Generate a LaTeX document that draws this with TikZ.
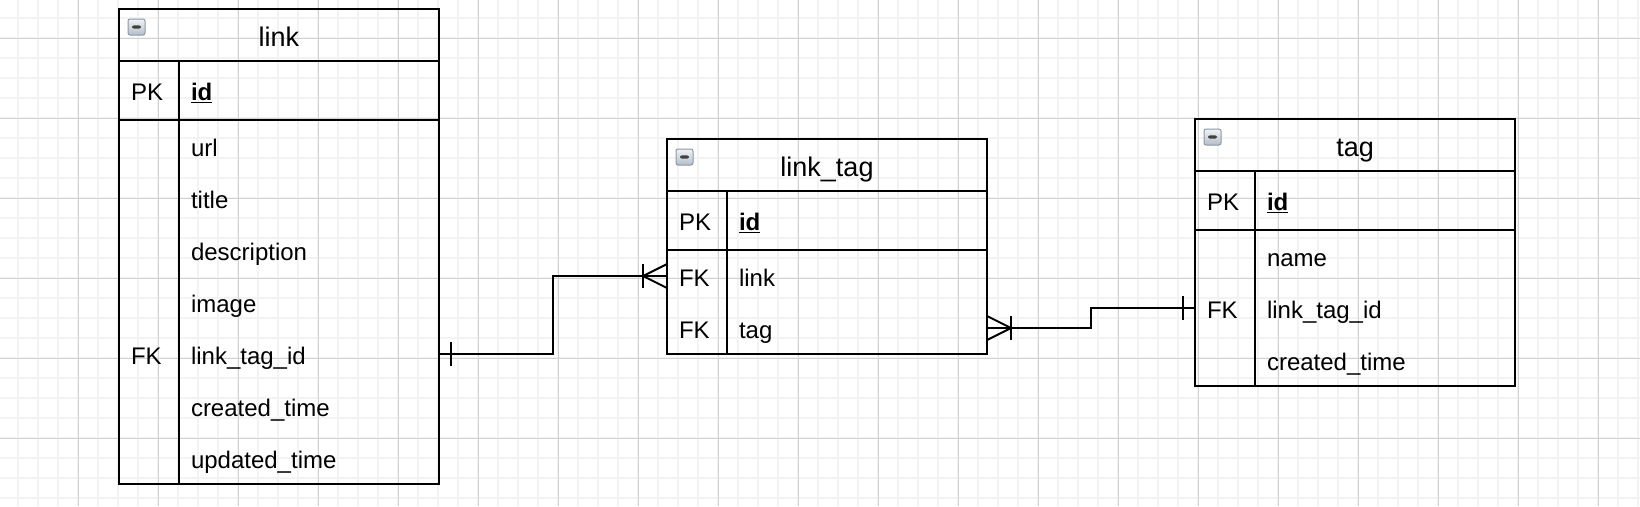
\documentclass[tikz,border=0pt]{standalone}
\usepackage{fontspec}
\setmainfont{Liberation Sans}
\usepackage{xcolor}
\usepackage{tikz}
\usetikzlibrary{positioning}

\definecolor{gridlight}{HTML}{F3F3F3}
\definecolor{griddark}{HTML}{D2D2D2}
\definecolor{icontop}{HTML}{F0F3F6}
\definecolor{iconbot}{HTML}{B4BEC8}
\definecolor{iconedge}{HTML}{8C98A6}

\tikzset{
  cell/.style={draw, line width=2pt},
  hdr/.style={draw, line width=2pt, outer sep=0pt, inner sep=0pt,
    minimum width=320pt, minimum height=52pt, text height=23pt, text depth=0pt,
    font=\fontsize{27}{32}\selectfont},
  keyc/.style={outer sep=0pt, inner xsep=12pt, inner ysep=0pt, text width=36pt,
    align=left, minimum height=52pt, text height=20.5pt, text depth=0pt,
    font=\fontsize{24}{28}\selectfont},
  fld/.style={outer sep=0pt, inner xsep=12pt, inner ysep=0pt, text width=236pt,
    align=left, minimum height=52pt, text height=20.5pt, text depth=0pt,
    font=\fontsize{24}{28}\selectfont},
  icon/.style={draw=iconedge, line width=1pt, rounded corners=2pt,
    top color=icontop, bottom color=iconbot, minimum width=17pt, minimum height=16pt,
    inner sep=0pt, outer sep=0pt, anchor=north west,
    path picture={\fill[black!75] ([shift={(4,-1.6)}]path picture bounding box.west)
      rectangle ([shift={(-4,1.6)}]path picture bounding box.east);}},
  rel/.style={line width=2pt},
}

\begin{document}
\begin{tikzpicture}[x=1pt, y=-1pt]
  \useasboundingbox (0,0) rectangle (1640,506);
  % grid
  \foreach \i in {0,...,81} \draw[gridlight, line width=2pt] ({18.3+20*\i},0) -- ({18.3+20*\i},506);
  \foreach \i in {0,...,24} \draw[gridlight, line width=2pt] (0,{18.3+20*\i}) -- (1640,{18.3+20*\i});
  \foreach \i in {0,...,19} \draw[griddark, line width=1pt] ({78.3+80*\i},0) -- ({78.3+80*\i},506);
  \foreach \i in {0,...,5} \draw[griddark, line width=1pt] (0,{38.3+80*\i}) -- (1640,{38.3+80*\i});

  % table link
  \node[hdr] (link) at (279,35) {link};
  \node[icon] (link-ic) at ([shift={(9,10)}]link.north west) {};
  \node[keyc, cell, minimum height=59pt, anchor=north west] (link-pk) at (link.south west) {PK};
  \node[fld, cell, minimum height=59pt, anchor=north west] (link-id) at (link-pk.north east) {\underline{\textbf{id}}};
  \node[fld, anchor=north west] (link-r1) at (link-id.south west) {url};
  \node[fld, below=0pt of link-r1] (link-r2) {title};
  \node[fld, below=0pt of link-r2] (link-r3) {description};
  \node[fld, below=0pt of link-r3] (link-r4) {image};
  \node[fld, below=0pt of link-r4] (link-r5) {link\_tag\_id};
  \node[fld, below=0pt of link-r5] (link-r6) {created\_time};
  \node[fld, below=0pt of link-r6] (link-r7) {updated\_time};
  \node[keyc] (link-k5) at (link-pk |- link-r5) {FK};
  \draw[cell] (link-pk.south west) rectangle (link-r7.south east);
  \draw[cell] (link-pk.south east) -- (link-r7.south west);

  % table link_tag
  \node[hdr] (lt) at (827,165) {link\_tag};
  \node[icon] (lt-ic) at ([shift={(9,10)}]lt.north west) {};
  \node[keyc, cell, minimum height=59pt, anchor=north west] (lt-pk) at (lt.south west) {PK};
  \node[fld, cell, minimum height=59pt, anchor=north west] (lt-id) at (lt-pk.north east) {\underline{\textbf{id}}};
  \node[fld, anchor=north west] (lt-r1) at (lt-id.south west) {link};
  \node[fld, below=0pt of lt-r1] (lt-r2) {tag};
  \node[keyc] (lt-k1) at (lt-pk |- lt-r1) {FK};
  \node[keyc] (lt-k2) at (lt-pk |- lt-r2) {FK};
  \draw[cell] (lt-pk.south west) rectangle (lt-r2.south east);
  \draw[cell] (lt-pk.south east) -- (lt-r2.south west);

  % table tag
  \node[hdr] (tag) at (1355,145) {tag};
  \node[icon] (tag-ic) at ([shift={(9,10)}]tag.north west) {};
  \node[keyc, cell, minimum height=59pt, anchor=north west] (tag-pk) at (tag.south west) {PK};
  \node[fld, cell, minimum height=59pt, anchor=north west] (tag-id) at (tag-pk.north east) {\underline{\textbf{id}}};
  \node[fld, anchor=north west] (tag-r1) at (tag-id.south west) {name};
  \node[fld, below=0pt of tag-r1] (tag-r2) {link\_tag\_id};
  \node[fld, below=0pt of tag-r2] (tag-r3) {created\_time};
  \node[keyc] (tag-k2) at (tag-pk |- tag-r2) {FK};
  \draw[cell] (tag-pk.south west) rectangle (tag-r3.south east);
  \draw[cell] (tag-pk.south east) -- (tag-r3.south west);

  % relations
  \coordinate (j1) at (553,0);
  \coordinate (j2) at (1091,0);
  \draw[rel] (link-r5.east) -- (link-r5.east -| j1) |- (lt-k1.west);
  \draw[rel] ([shift={(12,-12)}]link-r5.east) -- ([shift={(12,12)}]link-r5.east);
  \draw[rel] ([shift={(0,-12)}]lt-k1.west) -- ([shift={(-24,0)}]lt-k1.west) -- ([shift={(0,12)}]lt-k1.west);
  \draw[rel] ([shift={(-24,-12)}]lt-k1.west) -- ([shift={(-24,12)}]lt-k1.west);

  \draw[rel] (lt-r2.east) -- (lt-r2.east -| j2) |- (tag-k2.west);
  \draw[rel] ([shift={(0,-12)}]lt-r2.east) -- ([shift={(24,0)}]lt-r2.east) -- ([shift={(0,12)}]lt-r2.east);
  \draw[rel] ([shift={(24,-12)}]lt-r2.east) -- ([shift={(24,12)}]lt-r2.east);
  \draw[rel] ([shift={(-12,-12)}]tag-k2.west) -- ([shift={(-12,12)}]tag-k2.west);
\end{tikzpicture}
\end{document}
